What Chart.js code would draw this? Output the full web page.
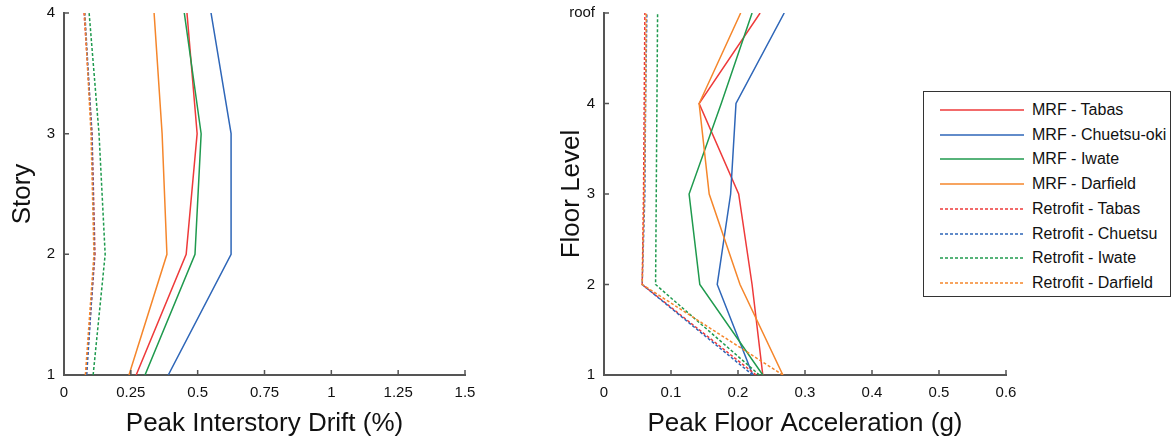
<!DOCTYPE html>
<html>
<head>
<meta charset="utf-8">
<script src="https://cdn.jsdelivr.net/npm/chart.js@4.4.1/dist/chart.umd.min.js"></script>
<style>
  body { margin: 0; background: #fff; font-family: Arial, "Liberation Sans", sans-serif; }
  #wrap { position: relative; width: 1175px; height: 442px; }
  .cv { position: absolute; top: 0; }
  #legend { position: absolute; left: 923px; top: 91px; width: 248px; height: 206px;
            border: 1px solid #333; background: #fff; box-sizing: border-box; }
  .row { position: absolute; left: 0; height: 20px; width: 100%; }
  .row svg { position: absolute; left: 16px; top: 0; }
  .lbl { position: absolute; left: 108px; top: 0; font-size: 16px; color: #111; white-space: nowrap; line-height: 20px; }
</style>
</head>
<body>
<div id="wrap">
  <div class="cv" style="left:0;width:560px;height:442px"><canvas id="drift"></canvas></div>
  <div class="cv" style="left:540px;width:635px;height:442px"><canvas id="accel"></canvas></div>
  <div id="legend"></div>
</div>
<script>
// series names and colours
let names = ['MRF - Tabas', 'MRF - Chuetsu-oki', 'MRF - Iwate', 'MRF - Darfield',
             'Retrofit - Tabas', 'Retrofit - Chuetsu', 'Retrofit - Iwate', 'Retrofit - Darfield'];
let colors = ['#ee3a3a', '#2e66b8', '#1f9a4e', '#f5862b', '#ee3a3a', '#2e66b8', '#1f9a4e', '#f5862b'];

// story 1..4 : peak interstory drift (%)
let stories = [1, 2, 3, 4];
let driftMrfTabas = [0.27, 0.457, 0.498, 0.46];
let driftMrfChuetsu = [0.39, 0.625, 0.625, 0.55];
let driftMrfIwate = [0.303, 0.49, 0.513, 0.45];
let driftMrfDarfield = [0.243, 0.385, 0.367, 0.337];
let driftRetTabas = [0.082, 0.116, 0.105, 0.075];
let driftRetChuetsu = [0.085, 0.114, 0.104, 0.078];
let driftRetIwate = [0.109, 0.154, 0.131, 0.094];
let driftRetDarfield = [0.08, 0.112, 0.101, 0.077];

// floor 1..roof : peak floor acceleration (g)
let floors = [1, 2, 3, 4, 5];
let floorLabels = ['1', '2', '3', '4', 'roof'];
let accMrfTabas = [0.237, 0.221, 0.201, 0.142, 0.233];
let accMrfChuetsu = [0.222, 0.169, 0.189, 0.197, 0.269];
let accMrfIwate = [0.237, 0.143, 0.127, 0.175, 0.221];
let accMrfDarfield = [0.267, 0.203, 0.157, 0.142, 0.204];
let accRetTabas = [0.227, 0.057, 0.059, 0.06, 0.061];
let accRetChuetsu = [0.222, 0.057, 0.061, 0.062, 0.064];
let accRetIwate = [0.232, 0.077, 0.078, 0.079, 0.08];
let accRetDarfield = [0.267, 0.057, 0.06, 0.062, 0.063];

let driftSeries = [driftMrfTabas, driftMrfChuetsu, driftMrfIwate, driftMrfDarfield,
                   driftRetTabas, driftRetChuetsu, driftRetIwate, driftRetDarfield];
let accSeries = [accMrfTabas, accMrfChuetsu, accMrfIwate, accMrfDarfield,
                 accRetTabas, accRetChuetsu, accRetIwate, accRetDarfield];

function makeSets(series, levels) {
  let sets = [];
  // retrofit first so MRF lines sit on top
  for (let k = series.length - 1; k >= 0; k--) {
    let pts = [];
    for (let i = 0; i < levels.length; i++) pts.push({ x: series[k][i], y: levels[i] });
    sets.push({
      label: names[k],
      data: pts,
      showLine: true,
      borderColor: colors[k],
      borderWidth: 1.5,
      borderDash: k >= 4 ? [3, 2] : [],
      pointRadius: 0,
      tension: 0
    });
  }
  return sets;
}

// tick marks pointing into the plot
let innerTicks = {
  id: 'innerTicks',
  afterDraw(chart) {
    let ctx = chart.ctx, a = chart.chartArea;
    let sx = chart.scales.x, sy = chart.scales.y;
    ctx.save();
    ctx.strokeStyle = '#555';
    ctx.lineWidth = 1.5;
    ctx.beginPath();
    sx.ticks.forEach(function(t) {
      let p = sx.getPixelForValue(t.value);
      ctx.moveTo(p, a.bottom);
      ctx.lineTo(p, a.bottom - 5);
    });
    sy.ticks.forEach(function(t) {
      let p = sy.getPixelForValue(t.value);
      ctx.moveTo(a.left, p);
      ctx.lineTo(a.left + 5, p);
    });
    ctx.stroke();
    ctx.restore();
  }
};

let tickFont = { family: 'Arial, "Liberation Sans", sans-serif', size: 15 };
let titleFont = { family: 'Arial, "Liberation Sans", sans-serif', size: 26 };

function noPad(s) {
  s.paddingTop = 0; s.paddingBottom = 0; s.paddingLeft = 0; s.paddingRight = 0;
}

function axisX(min, max, step, title) {
  return {
    type: 'linear', min: min, max: max,
    ticks: {
      stepSize: step, color: '#111', font: tickFont, padding: 9, maxRotation: 0,
      callback: function(v) { return String(+v.toFixed(2)); }
    },
    grid: { drawOnChartArea: false, drawTicks: false },
    border: { display: true, color: '#555', width: 2 },
    title: { display: true, text: title, color: '#111', font: titleFont, padding: { top: 4, bottom: 3 } },
    afterFit: function(s) { s.height = 67; noPad(s); }
  };
}

function axisY(min, max, title, labels, pad) {
  return {
    type: 'linear', min: min, max: max,
    ticks: {
      stepSize: 1, color: '#111', font: tickFont, padding: 9,
      callback: function(v) { return labels ? labels[v - 1] : v; }
    },
    grid: { drawOnChartArea: false, drawTicks: false },
    border: { display: true, color: '#555', width: 2 },
    title: { display: true, text: title, color: '#111', font: titleFont, padding: { top: pad, bottom: 0 } },
    afterFit: function(s) { s.width = 64; noPad(s); }
  };
}

new Chart(document.getElementById('drift'), {
  type: 'scatter',
  data: { datasets: makeSets(driftSeries, stories) },
  options: {
    responsive: true, maintainAspectRatio: false, animation: false,
    layout: { padding: { top: 13, right: 95, left: 0, bottom: 0 } },
    plugins: { legend: { display: false }, tooltip: { enabled: false } },
    scales: {
      x: axisX(0, 1.5, 0.25, 'Peak Interstory Drift (%)'),
      y: axisY(1, 4, 'Story', null, 7)
    }
  },
  plugins: [innerTicks]
});

new Chart(document.getElementById('accel'), {
  type: 'scatter',
  data: { datasets: makeSets(accSeries, floors) },
  options: {
    responsive: true, maintainAspectRatio: false, animation: false,
    layout: { padding: { top: 13, right: 169, left: 0, bottom: 0 } },
    plugins: { legend: { display: false }, tooltip: { enabled: false } },
    scales: {
      x: axisX(0, 0.6, 0.1, 'Peak Floor Acceleration (g)'),
      y: axisY(1, 5, 'Floor Level', floorLabels, 16)
    }
  },
  plugins: [innerTicks]
});

// legend box
let legend = document.getElementById('legend');
for (let k = 0; k < names.length; k++) {
  let row = document.createElement('div');
  row.className = 'row';
  row.style.top = (8 + k * 24.7) + 'px';
  let dash = k >= 4 ? ' stroke-dasharray="3,2"' : '';
  row.innerHTML = '<svg width="84" height="20"><line x1="0" y1="10" x2="84" y2="10" stroke="' +
    colors[k] + '" stroke-width="1.5"' + dash + '/></svg>';
  let lb = document.createElement('div');
  lb.className = 'lbl';
  lb.textContent = names[k];
  row.appendChild(lb);
  legend.appendChild(row);
}
</script>
</body>
</html>
